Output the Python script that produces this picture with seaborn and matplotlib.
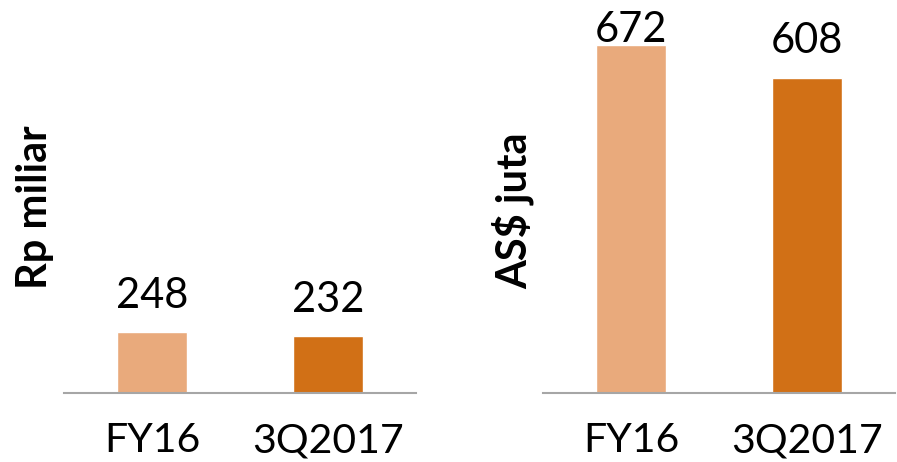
import matplotlib
matplotlib.use("Agg")
import matplotlib.pyplot as plt
import pandas as pd
import seaborn as sns

# Data
periods = ["FY16", "3Q2017"]
rp_miliar = [248, 232]
as_juta = [672, 608]
bar_colors = ["#E9AA7C", "#D17016"]

sns.set_theme(style="white")
plt.rcParams["font.family"] = ["Lato", "DejaVu Sans"]


def draw_panel(ax, values, ylabel, ymax, label_y):
    df = pd.DataFrame({"period": periods, "value": values})
    sns.barplot(data=df, x="period", y="value", hue="period", palette=bar_colors,
                dodge=False, legend=False, width=0.4, saturation=1, ax=ax)
    ax.set_xlim(-0.5, 1.5)
    ax.set_ylim(0, ymax)

    # value labels above bars, kept inside the plot area
    cap = ymax * 0.893
    for i, v in enumerate(values):
        y = min(v + ymax * 0.062, cap)
        ax.text(i, y, str(v), ha="center", va="baseline", fontsize=30, color="black")

    for side in ["top", "right", "left"]:
        ax.spines[side].set_visible(False)
    ax.spines["bottom"].set_color("#A6A6A6")
    ax.spines["bottom"].set_linewidth(1.5)

    ax.set_yticks([])
    ax.tick_params(axis="x", length=0, pad=21, labelsize=29.5, labelcolor="black")
    ax.set_xlabel("")
    ax.set_ylabel(ylabel, fontsize=30, fontweight="bold", color="black", va="center")
    ax.yaxis.set_label_coords(label_y[0], label_y[1])


fig = plt.figure(figsize=(8.97, 4.62), dpi=100)
ax1 = fig.add_axes([64 / 897, 1 - 393 / 462, 352 / 897, 393 / 462])
ax2 = fig.add_axes([543 / 897, 1 - 393 / 462, 352 / 897, 393 / 462])

draw_panel(ax1, rp_miliar, "Rp miliar", 1610, (-0.082, 0.472))
draw_panel(ax2, as_juta, "AS$ juta", 758, (-0.085, 0.463))

fig.savefig("out.png", dpi=100)
